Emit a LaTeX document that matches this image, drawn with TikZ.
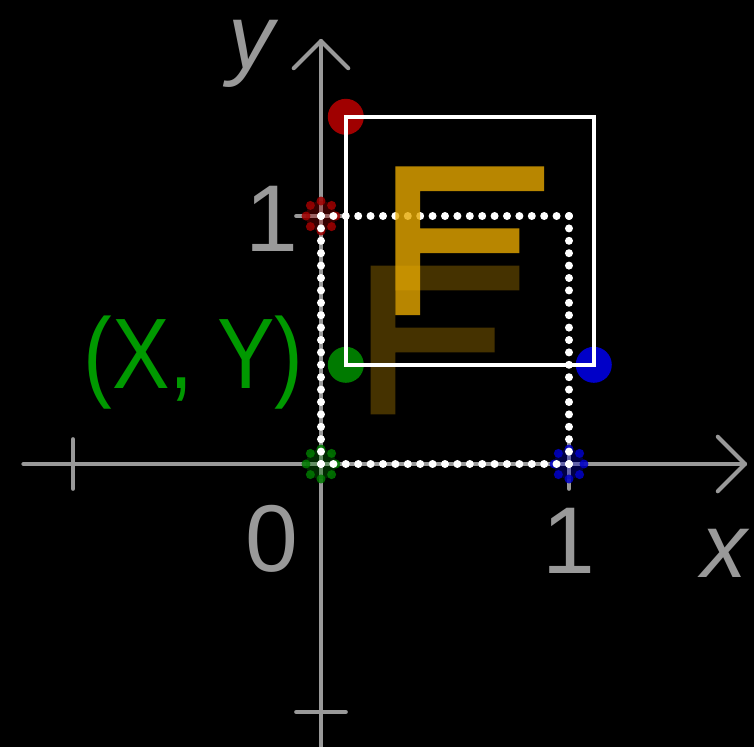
\documentclass[tikz,border=0pt]{standalone}
\usepackage{fontspec}
\setmainfont{Liberation Sans}
\definecolor{axisgray}{RGB}{153,153,153}
\definecolor{ptred}{RGB}{160,0,0}
\definecolor{ptgreen}{RGB}{0,122,0}
\definecolor{ptblue}{RGB}{0,0,200}
\definecolor{labelgreen}{RGB}{0,153,0}
\definecolor{fgold}{RGB}{230,168,0}

\begin{document}
\begin{tikzpicture}[
  x=2.48cm,y=2.48cm,
  line cap=round,
  line join=round,
  axis/.style={draw=axisgray,line width=1.15pt},
  frame/.style={draw=white,line width=1.15pt,line join=miter,line cap=butt},
  num/.style={text=axisgray,inner sep=0pt,font=\fontsize{27}{27}\selectfont},
  axlabel/.style={text=axisgray,inner sep=0pt,font=\fontsize{26}{26}\selectfont\itshape},
  pointlabel/.style={text=labelgreen,inner sep=0pt,font=\fontsize{28.5}{28.5}\selectfont}
]

% background and margins
\fill[black] (-1.2944,-1.1411) rectangle (1.7460,1.8710);
\useasboundingbox (-1.2944,-1.1411) rectangle (1.7460,1.8710);

% axes
\draw[axis] (-1.2,0) -- (1.71,0);
\draw[axis] (1.60,0.11) -- (1.71,0) -- (1.60,-0.11);
\draw[axis] (0,-1.2) -- (0,1.706);
\draw[axis] (-0.11,1.596) -- (0,1.706) -- (0.11,1.596);
\foreach \t in {-1,1} {
  \draw[axis] (\t,-0.1) -- (\t,0.1);
  \draw[axis] (-0.1,\t) -- (0.1,\t);
}

% blurred corner points
\foreach \px/\py/\c in {0/1/ptred,0/0/ptgreen,1/0/ptblue} {
  \fill[\c,opacity=0.35] (\px,\py) circle[radius=0.15cm];
  \foreach \a in {0,45,...,315}
    \fill[\c,opacity=0.85] ([shift={(\a:0.15cm)}]\px,\py) circle[radius=0.045cm];
}

% dotted unit square
\foreach \i in {0,...,20} {
  \fill[white] (\i/20,0) circle[radius=0.04cm];
  \fill[white] (\i/20,1) circle[radius=0.04cm];
  \fill[white] (0,\i/20) circle[radius=0.04cm];
  \fill[white] (1,\i/20) circle[radius=0.04cm];
}

% original F
\fill[fgold,opacity=0.3]
  (0.2,0.2) -- (0.2,0.8) -- (0.8,0.8) -- (0.8,0.7) -- (0.3,0.7)
  -- (0.3,0.55) -- (0.7,0.55) -- (0.7,0.45) -- (0.3,0.45) -- (0.3,0.2) -- cycle;

% shifted F
\begin{scope}[shift={(0.1,0.4)}]
  \fill[fgold,opacity=0.8]
    (0.2,0.2) -- (0.2,0.8) -- (0.8,0.8) -- (0.8,0.7) -- (0.3,0.7)
    -- (0.3,0.55) -- (0.7,0.55) -- (0.7,0.45) -- (0.3,0.45) -- (0.3,0.2) -- cycle;
\end{scope}

% shifted corner points and square
\fill[ptred]   (0.1,1.4) circle[radius=0.18cm];
\fill[ptgreen] (0.1,0.4) circle[radius=0.18cm];
\fill[ptblue]  (1.1,0.4) circle[radius=0.18cm];
\draw[frame] (0.1,0.4) rectangle (1.1,1.4);

% labels
\node[num] (zero) at (-0.2,-0.30) {0};
\node[num] (onex) at (1,-0.31) {1};
\node[num] (oney) at (-0.2,0.99) {1};
\node[axlabel] (xlab) at (1.625,-0.362) {x};
\node[axlabel] (ylab) at (-0.28,1.652) {y};
\node[pointlabel] (shift) at (-0.514,0.41) {\scalebox{0.86}[1]{(X, Y)}};

\end{tikzpicture}
\end{document}
